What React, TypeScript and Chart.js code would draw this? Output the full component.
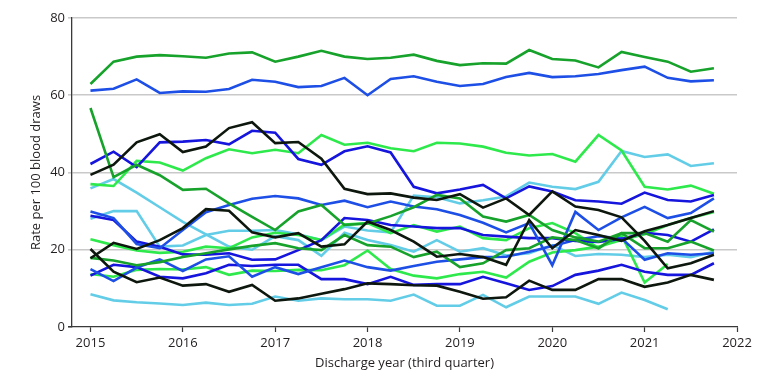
import { useEffect, useRef } from "react";
import { Chart, registerables } from "chart.js";

Chart.register(...registerables);

// Third-quarter discharge periods, one point per quarter
const quarters = [
  2015, 2015.25, 2015.5, 2015.75, 2016, 2016.25, 2016.5, 2016.75,
  2017, 2017.25, 2017.5, 2017.75, 2018, 2018.25, 2018.5, 2018.75,
  2019, 2019.25, 2019.5, 2019.75, 2020, 2020.25, 2020.5, 2020.75,
  2021, 2021.25, 2021.5, 2021.75,
];

const yearTicks = [2015, 2016, 2017, 2018, 2019, 2020, 2021, 2022];
const rateTicks = [0, 20, 40, 60, 80];

// Rates per 100 blood draws, one list per site
const siteG1 = [62.9, 68.7, 70.0, 70.4, 70.1, 69.7, 70.8, 71.1, 68.7, 70.0, 71.5, 70.0, 69.4, 69.7, 70.5, 68.9, 67.8, 68.3, 68.2, 71.7, 69.4, 69.0, 67.2, 71.2, 69.9, 68.7, 66.1, 67.0];
const siteB1 = [61.2, 61.7, 64.1, 60.6, 61.0, 60.9, 61.6, 64.0, 63.5, 62.1, 62.4, 64.5, 60.0, 64.2, 64.9, 63.5, 62.4, 62.9, 64.7, 65.8, 64.7, 64.9, 65.5, 66.5, 67.4, 64.5, 63.6, 63.9];
const siteG2 = [56.7, 38.8, 42.0, 39.3, 35.5, 35.8, 32.0, 28.5, 25.1, 29.9, 31.6, 26.4, 26.8, 28.7, 31.0, 34.2, 33.3, 28.6, 27.3, 29.0, 25.1, 23.2, 22.1, 24.3, 20.4, 20.4, 22.1, 19.8];
const siteG3 = [17.9, 17.2, 16.0, 16.8, 18.1, 19.1, 20.1, 21.0, 21.7, 20.4, 19.9, 23.8, 21.2, 20.8, 18.1, 19.5, 15.5, 16.5, 19.9, 20.4, 23.2, 22.5, 20.4, 24.3, 24.3, 22.1, 27.7, 24.7];
const siteB2 = [42.2, 45.4, 41.4, 47.8, 48.0, 48.4, 47.3, 50.8, 50.3, 43.5, 42.0, 45.5, 46.8, 45.2, 36.3, 34.6, 35.6, 36.8, 33.3, 36.4, 35.1, 32.8, 32.5, 31.9, 34.8, 32.9, 32.5, 34.2];
const siteK1 = [39.4, 42.0, 47.8, 49.9, 45.3, 46.7, 51.5, 53.0, 47.6, 47.9, 43.6, 35.8, 34.4, 34.6, 33.5, 32.9, 34.4, 30.9, 33.3, 29.0, 35.1, 31.2, 30.3, 28.4, 22.3, 15.2, 16.5, 18.7];
const siteL1 = [37.0, 36.5, 43.0, 42.6, 40.5, 43.7, 46.0, 45.0, 45.9, 45.0, 49.7, 47.2, 47.7, 46.3, 45.5, 47.7, 47.5, 46.7, 45.1, 44.4, 44.8, 42.8, 49.7, 45.7, 36.3, 35.6, 36.6, 34.5];
const siteS1 = [35.9, 38.3, 34.8, 31.0, 27.2, 24.0, 20.8, 20.0, 23.5, 22.5, 18.4, 24.4, 22.5, 21.2, 19.5, 22.5, 19.5, 20.4, 18.5, 19.1, 21.2, 18.4, 18.9, 18.7, 18.1, 18.7, 18.1, 19.5];
const siteS2 = [28.0, 30.0, 30.0, 20.8, 21.1, 23.8, 24.9, 24.9, 25.1, 24.0, 22.5, 26.0, 25.0, 24.5, 34.0, 33.6, 32.0, 32.8, 33.8, 37.4, 36.3, 35.7, 37.6, 45.6, 44.0, 44.7, 41.7, 42.4];
const siteS3 = [8.5, 6.9, 6.4, 6.1, 5.7, 6.3, 5.7, 6.0, 7.9, 6.8, 7.4, 7.2, 7.2, 6.8, 8.4, 5.5, 5.5, 8.3, 5.1, 7.9, 7.9, 7.9, 6.0, 8.9, 7.0, 4.6];
const siteB3 = [29.9, 28.2, 21.5, 20.4, 25.1, 29.7, 31.6, 33.2, 33.9, 33.3, 31.6, 32.7, 31.0, 32.5, 31.2, 30.5, 29.0, 27.0, 24.5, 26.9, 16.0, 29.8, 25.1, 28.4, 31.1, 28.2, 29.5, 33.3];
const siteB4 = [28.8, 27.7, 22.1, 20.8, 18.8, 18.7, 19.1, 17.4, 17.5, 19.9, 22.5, 28.2, 27.7, 26.4, 26.0, 25.6, 25.6, 23.8, 23.4, 23.0, 23.0, 22.3, 22.0, 22.8, 24.4, 23.8, 22.1, 25.3];
const siteB5 = [15.0, 11.9, 15.4, 17.5, 14.5, 17.5, 18.3, 13.0, 15.5, 13.7, 15.5, 17.2, 15.5, 14.6, 15.8, 16.9, 17.5, 18.1, 18.2, 19.5, 21.0, 22.5, 23.5, 23.0, 17.4, 19.1, 18.7, 19.1];
const siteB6 = [13.3, 16.1, 15.5, 13.0, 12.6, 13.9, 16.1, 15.8, 16.1, 16.1, 12.4, 12.4, 11.1, 13.0, 10.9, 11.1, 11.1, 13.0, 11.3, 9.6, 10.6, 13.5, 14.6, 16.1, 14.3, 13.5, 13.5, 16.5];
const siteK2 = [20.2, 14.3, 11.6, 12.8, 10.7, 11.1, 9.1, 10.9, 6.8, 7.4, 8.6, 9.8, 11.3, 11.1, 10.8, 10.7, 9.1, 7.3, 7.7, 12.0, 9.6, 9.6, 12.4, 12.4, 10.4, 11.5, 13.5, 12.2];
const siteK3 = [17.8, 21.8, 20.2, 22.5, 25.6, 30.5, 30.1, 24.5, 23.2, 24.3, 20.8, 21.4, 27.3, 25.1, 22.1, 18.2, 18.9, 18.1, 16.1, 27.7, 20.4, 25.1, 23.8, 22.3, 24.8, 26.4, 28.2, 30.0];
const siteL2 = [22.7, 21.2, 19.8, 19.2, 19.5, 20.8, 20.4, 23.2, 24.4, 23.8, 22.5, 26.5, 26.9, 24.3, 26.4, 24.7, 26.0, 23.0, 22.5, 25.6, 26.9, 24.3, 20.4, 23.8, 11.5, 16.3];
const siteL3 = [13.7, 13.0, 14.8, 15.0, 14.9, 15.5, 13.5, 14.6, 14.5, 14.8, 14.7, 16.0, 19.8, 15.0, 13.3, 12.6, 13.7, 14.3, 12.8, 16.9, 19.3, 19.9, 20.8, 22.5, 24.0, 26.4, 28.2, 29.8];

const GREEN = "#17a22b";
const LIGHT_GREEN = "#2ee94b";
const ROYAL = "#1d4fe6";
const DEEP_BLUE = "#1515dd";
const BLACK = "#0e170e";
const SKY = "#63cde7";

const series: [number[], string][] = [
  [siteK1, BLACK],
  [siteK2, BLACK],
  [siteK3, BLACK],
  [siteG1, GREEN],
  [siteB1, ROYAL],
  [siteG2, GREEN],
  [siteG3, GREEN],
  [siteB2, DEEP_BLUE],
  [siteB3, ROYAL],
  [siteB4, DEEP_BLUE],
  [siteB5, ROYAL],
  [siteB6, DEEP_BLUE],
  [siteL1, LIGHT_GREEN],
  [siteL2, LIGHT_GREEN],
  [siteL3, LIGHT_GREEN],
  [siteS1, SKY],
  [siteS2, SKY],
  [siteS3, SKY],
];

const FONT = { family: "'Open Sans', 'Noto Sans', sans-serif", size: 13 };
const TEXT = "#231f20";
const AXIS = "#3a3a3a";

export default function App() {
  const canvasRef = useRef<HTMLCanvasElement>(null);

  useEffect(() => {
    const canvas = canvasRef.current;
    if (!canvas) return;
    const chart = new Chart(canvas, {
      type: "line",
      data: {
        datasets: series.map(([vals, color]) => ({
          data: vals.map((y, i) => ({ x: quarters[i], y })),
          borderColor: color,
          backgroundColor: color,
          borderWidth: 2.6,
          pointRadius: 0,
          tension: 0,
          fill: false,
        })),
      },
      options: {
        responsive: false,
        animation: false,
        events: [],
        layout: { padding: { top: 18, right: 43, left: 0, bottom: 0 } },
        plugins: { legend: { display: false }, tooltip: { enabled: false } },
        scales: {
          x: {
            type: "linear",
            min: 2014.8,
            max: 2022,
            afterBuildTicks: (scale: any) => {
              scale.ticks = yearTicks.map((value) => ({ value }));
            },
            afterFit: (scale: any) => {
              scale.height = 55;
            },
            ticks: {
              callback: (v: any) => String(v),
              font: FONT,
              color: TEXT,
              padding: 3,
              maxRotation: 0,
              autoSkip: false,
            },
            grid: { drawOnChartArea: false, drawTicks: true, tickLength: 5, tickColor: AXIS, tickWidth: 1.2 },
            border: { color: AXIS, width: 1.3 },
            title: {
              display: true,
              text: "Discharge year (third quarter)",
              font: FONT,
              color: TEXT,
              padding: { top: 0, bottom: 11 },
            },
          },
          y: {
            min: 0,
            max: 80,
            afterBuildTicks: (scale: any) => {
              scale.ticks = rateTicks.map((value) => ({ value }));
            },
            afterFit: (scale: any) => {
              scale.width = 72;
            },
            ticks: { font: FONT, color: TEXT, padding: 3 },
            grid: {
              color: (ctx: any) => (ctx.tick && ctx.tick.value === 0 ? "rgba(0,0,0,0)" : "#c9c9c9"),
              tickColor: (ctx: any) => (ctx.tick && ctx.tick.value === 0 ? AXIS : "#c9c9c9"),
              lineWidth: 1.6,
              tickLength: 4,
            },
            border: { color: AXIS, width: 1.3 },
            title: {
              display: true,
              text: "Rate per 100 blood draws",
              font: FONT,
              color: TEXT,
              padding: { top: 28, bottom: 0 },
            },
          },
        },
      },
    });
    return () => chart.destroy();
  }, []);

  return (
    <div style={{ position: "fixed", left: 0, top: 0, width: 780, height: 382, background: "#fff" }}>
      <canvas ref={canvasRef} width={780} height={382} style={{ display: "block" }} />
    </div>
  );
}
